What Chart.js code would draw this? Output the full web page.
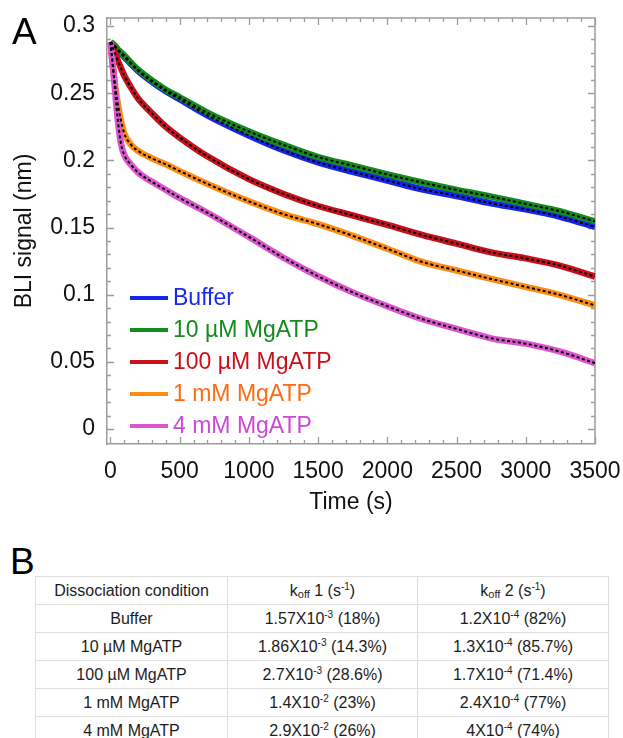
<!DOCTYPE html>
<html>
<head>
<meta charset="utf-8">
<script src="https://cdn.jsdelivr.net/npm/chart.js@4.4.0/dist/chart.umd.min.js"></script>
<style>
  body { margin: 0; background: #fff; font-family: "Liberation Sans", Arial, sans-serif; }
  #wrap { position: relative; width: 623px; height: 738px; overflow: hidden; }
  #plot { position: absolute; left: 0; top: 0; }
  .panel { position: absolute; font-size: 37px; line-height: 1; color: #000; }
  #koffTable { position: absolute; left: 35px; top: 576px; border-collapse: collapse; font-size: 16px; color: #1c1c1c; }
  #koffTable td { border: 1px solid #dedede; height: 27px; padding: 0; text-align: center; }
  sup { font-size: 10px; vertical-align: 6px; line-height: 0; }
  sub { font-size: 11px; vertical-align: -2px; line-height: 0; }
</style>
</head>
<body>
<div id="wrap">
  <canvas id="plot" width="623" height="530"></canvas>
  <div class="panel" style="left:12px; top:13px;">A</div>
  <div class="panel" style="left:10px; top:543px;">B</div>
  <table id="koffTable"></table>
</div>
<script>
// dissociation traces (time in s, signal in nm)
const timeS = [0, 25, 50, 75, 100, 150, 200, 300, 400, 500, 700, 1000, 1250, 1500, 1750, 2000, 2250, 2500, 2750, 3000, 3250, 3500];
const bufferNm = [0.288, 0.2855, 0.2825, 0.2795, 0.277, 0.2715, 0.2665, 0.2585, 0.2515, 0.2455, 0.2335, 0.2185, 0.2075, 0.1985, 0.1915, 0.185, 0.1785, 0.1735, 0.168, 0.1635, 0.158, 0.1505];
const atp10uM = [0.288, 0.286, 0.283, 0.2805, 0.278, 0.2725, 0.2675, 0.2595, 0.2525, 0.247, 0.2355, 0.2215, 0.2115, 0.2025, 0.196, 0.1895, 0.1835, 0.178, 0.173, 0.1675, 0.162, 0.1545];
const atp100uM = [0.288, 0.282, 0.275, 0.269, 0.263, 0.254, 0.246, 0.235, 0.225, 0.217, 0.203, 0.186, 0.175, 0.166, 0.159, 0.152, 0.1445, 0.138, 0.1315, 0.127, 0.1215, 0.1135];
const atp1mM = [0.288, 0.263, 0.244, 0.230, 0.220, 0.2115, 0.207, 0.2015, 0.197, 0.192, 0.1825, 0.1695, 0.160, 0.1525, 0.1438, 0.1342, 0.1244, 0.118, 0.1117, 0.1058, 0.0997, 0.092];
const atp4mM = [0.288, 0.262, 0.233, 0.213, 0.204, 0.1965, 0.191, 0.184, 0.178, 0.172, 0.161, 0.143, 0.1275, 0.1137, 0.1017, 0.0914, 0.0819, 0.0745, 0.0675, 0.0635, 0.0575, 0.049];

const seriesNames = ['Buffer', '10 µM MgATP', '100 µM MgATP', '1 mM MgATP', '4 mM MgATP'];
const seriesValues = [bufferNm, atp10uM, atp100uM, atp1mM, atp4mM];
const seriesColors = ['#1626ee', '#158a1e', '#c8111b', '#ff8c12', '#dc55cf'];
const labelColors = ['#1a2ae8', '#158a1e', '#c8111b', '#ff6a12', '#cc48d8'];
const drawOrder = [5, 4, 3, 2, 1];

const xTickValues = [0, 500, 1000, 1500, 2000, 2500, 3000, 3500];
const yTickValues = [0, 0.05, 0.1, 0.15, 0.2, 0.25, 0.3];
const xMinorTicks = Array.from({ length: 36 }, (_, i) => i * 100);
const yMinorTicks = Array.from({ length: 31 }, (_, i) => i / 100);

// table B
const conditions = ['Buffer', '10 µM MgATP', '100 µM MgATP', '1 mM MgATP', '4 mM MgATP'];
const koff1Mant = ['1.57', '1.86', '2.7', '1.4', '2.9'];
const koff1Exp = ['-3', '-3', '-3', '-2', '-2'];
const koff1Pct = ['18%', '14.3%', '28.6%', '23%', '26%'];
const koff2Mant = ['1.2', '1.3', '1.7', '2.4', '4'];
const koff2Exp = ['-4', '-4', '-4', '-4', '-4'];
const koff2Pct = ['82%', '85.7%', '71.4%', '77%', '74%'];

const X_MIN = -25, X_MAX = 3500;
const Y_MIN = -0.0112, Y_MAX = 0.306;
const axisGray = '#9c9c9c';

Chart.defaults.font.family = '"Liberation Sans", Arial, sans-serif';

const datasets = [];
seriesValues.forEach((vals, i) => {
  const pts = timeS.map((t, j) => ({ x: t, y: vals[j] }));
  datasets.push({
    label: seriesNames[i] + ' fit', data: pts,
    borderColor: '#000', borderWidth: 2, borderDash: [3, 2.5],
    pointRadius: 0, cubicInterpolationMode: 'monotone', order: 0
  });
  datasets.push({
    label: seriesNames[i], data: pts,
    borderColor: seriesColors[i], borderWidth: 6.5,
    pointRadius: 0, cubicInterpolationMode: 'monotone', order: drawOrder[i]
  });
});

// inward tick marks on all four sides + top/right frame
const innerTicks = {
  id: 'innerTicks',
  beforeDatasetsDraw(chart) {
    const { ctx, chartArea: a, scales: { x, y } } = chart;
    ctx.save();
    ctx.strokeStyle = axisGray;
    ctx.lineWidth = 1.3;
    ctx.beginPath();
    const mark = (vals, len, isX) => vals.forEach(v => {
      if (isX) {
        const px = Math.round(x.getPixelForValue(v)) + 0.5;
        ctx.moveTo(px, a.bottom); ctx.lineTo(px, a.bottom - len);
        ctx.moveTo(px, a.top); ctx.lineTo(px, a.top + len);
      } else {
        const py = Math.round(y.getPixelForValue(v)) + 0.5;
        ctx.moveTo(a.left, py); ctx.lineTo(a.left + len, py);
        ctx.moveTo(a.right, py); ctx.lineTo(a.right - len, py);
      }
    });
    mark(xMinorTicks, 4, true);
    mark(xTickValues, 7, true);
    mark(yMinorTicks, 4, false);
    mark(yTickValues, 7, false);
    ctx.stroke();
    ctx.lineWidth = 1.5;
    ctx.beginPath();
    ctx.moveTo(a.left, a.top); ctx.lineTo(a.right, a.top); ctx.lineTo(a.right, a.bottom);
    ctx.stroke();
    ctx.restore();
  }
};

const insideLegend = {
  id: 'insideLegend',
  afterDraw(chart) {
    const { ctx, chartArea } = chart;
    ctx.save();
    ctx.font = '23px "Liberation Sans", Arial, sans-serif';
    ctx.textBaseline = 'middle';
    seriesNames.forEach((name, i) => {
      const y = chartArea.bottom - 146 + i * 32;
      ctx.strokeStyle = seriesColors[i];
      ctx.lineWidth = 4;
      ctx.beginPath();
      ctx.moveTo(chartArea.left + 23, y);
      ctx.lineTo(chartArea.left + 61, y);
      ctx.stroke();
      ctx.fillStyle = labelColors[i];
      ctx.fillText(name, chartArea.left + 66, y + 1);
    });
    ctx.restore();
  }
};

new Chart(document.getElementById('plot'), {
  type: 'line',
  data: { datasets: datasets },
  plugins: [innerTicks, insideLegend],
  options: {
    responsive: false,
    animation: false,
    layout: { padding: { top: 18, right: 28, left: 0, bottom: 0 } },
    plugins: { legend: { display: false }, tooltip: { enabled: false } },
    scales: {
      x: {
        type: 'linear', position: 'bottom', min: X_MIN, max: X_MAX,
        afterBuildTicks: s => { s.ticks = xTickValues.map(v => ({ value: v })); },
        afterFit: s => { s.height = 86; },
        ticks: { color: '#111', font: { size: 23 }, padding: 0, maxRotation: 0, autoSkip: false, callback: v => String(v) },
        grid: { display: false, drawTicks: true, tickLength: 14 },
        border: { display: true, color: axisGray, width: 1.5 },
        title: { display: true, text: 'Time (s)', color: '#111', font: { size: 23 }, padding: { top: 0, bottom: 14 } }
      },
      y: {
        type: 'linear', position: 'left', min: Y_MIN, max: Y_MAX,
        afterBuildTicks: s => { s.ticks = yTickValues.map(v => ({ value: v })); },
        afterFit: s => { s.width = 107; },
        ticks: { color: '#111', font: { size: 23 }, padding: 0, callback: v => String(Number(v.toFixed(2))) },
        grid: { display: false, drawTicks: true, tickLength: 12 },
        border: { display: true, color: axisGray, width: 1.5 },
        title: { display: true, text: 'BLI signal (nm)', color: '#111', font: { size: 23 }, padding: { top: 11, bottom: 0 } }
      }
    }
  }
});

// table B
const table = document.getElementById('koffTable');
const colWidths = [191, 189, 190];
const header = ['Dissociation condition', 'k<sub>off</sub> 1 (s<sup>-1</sup>)', 'k<sub>off</sub> 2 (s<sup>-1</sup>)'];
const rows = [header].concat(conditions.map((c, i) => [
  c,
  koff1Mant[i] + 'X10<sup>' + koff1Exp[i] + '</sup> (' + koff1Pct[i] + ')',
  koff2Mant[i] + 'X10<sup>' + koff2Exp[i] + '</sup> (' + koff2Pct[i] + ')'
]));
rows.forEach(r => {
  const tr = document.createElement('tr');
  r.forEach((cell, j) => {
    const td = document.createElement('td');
    td.style.width = colWidths[j] + 'px';
    td.innerHTML = cell;
    tr.appendChild(td);
  });
  table.appendChild(tr);
});
</script>
</body>
</html>
